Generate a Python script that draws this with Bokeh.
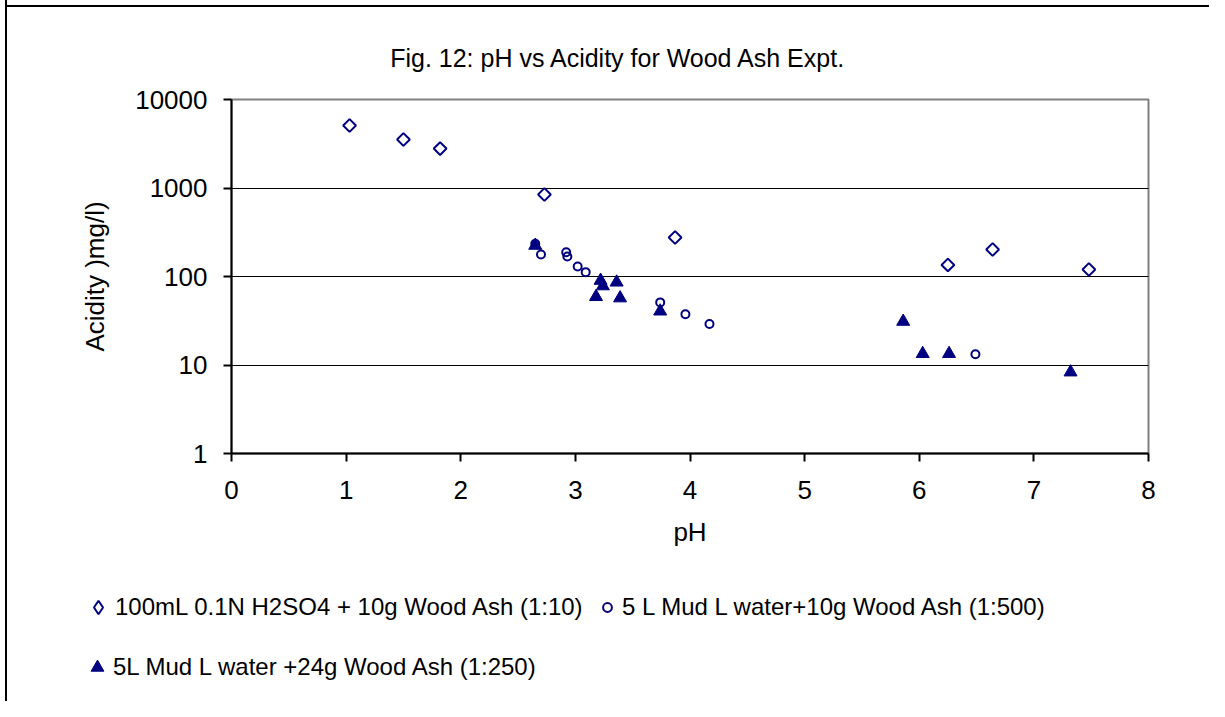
import math
from bokeh.plotting import figure
from bokeh.layouts import column
from bokeh.models import Range1d, FixedTicker, PrintfTickFormatter, Legend, LegendItem, Label
from bokeh.embed import file_html
from bokeh.resources import INLINE

# ---- data ----
ph_h2so4 = [1.03, 1.50, 1.82, 2.73, 3.87, 6.25, 6.64, 7.48]
acid_h2so4 = [5080, 3530, 2790, 845, 276, 135, 202, 120]

ph_mud500 = [2.65, 2.70, 2.92, 2.93, 3.02, 3.09, 3.74, 3.96, 4.17, 6.49]
acid_mud500 = [234, 177, 188, 168, 130, 112, 51, 37.5, 29, 13.2]

ph_mud250 = [2.65, 3.18, 3.22, 3.24, 3.36, 3.39, 3.74, 5.86, 6.03, 6.26, 7.32]
acid_mud250 = [224, 59, 90, 78, 86, 57, 40.5, 31, 13.4, 13.4, 8.3]

title_text = "Fig. 12: pH vs Acidity for Wood Ash Expt."
labels = [
    "100mL 0.1N H2SO4 + 10g Wood Ash (1:10)",
    "5 L Mud L water+10g Wood Ash (1:500)",
    "5L Mud L water +24g Wood Ash (1:250)",
]
x_ticks = [0, 1, 2, 3, 4, 5, 6, 7, 8]
y_ticks = [1, 10, 100, 1000, 10000]

NAVY = "#000080"
FONT = "Liberation Sans"
W = 1209
H_T, H_A, H_B = 80, 480, 141

LEFT_LINE = "linear-gradient(#000,#000) 5px 0 / 2px 100% no-repeat"

styles = dict(diamond=dict(marker="square", angle=math.pi / 4, size=9, fill_color=None,
                           line_color=NAVY, line_width=2),
              circle=dict(marker="circle", size=8, fill_color=None, line_color=NAVY, line_width=2),
              triangle=dict(marker="triangle", size=13, fill_color=NAVY, line_color=NAVY,
                            line_width=1))


def blank_fig(height, bg):
    f = figure(width=W, height=height, x_range=Range1d(0, W), y_range=Range1d(0, height),
               output_backend="svg", toolbar_location=None,
               x_axis_location=None, y_axis_location=None, min_border=0)
    f.frame_align = False
    f.grid.visible = False
    f.outline_line_color = None
    f.background_fill_alpha = 0
    f.border_fill_alpha = 0
    f.styles = {"background": bg}
    return f


# ---- title strip ----
pt = blank_fig(H_T, LEFT_LINE + ", linear-gradient(#000,#000) 5px 5px / 100% 2px no-repeat, #fff")
pt.add_layout(Label(x=618, y=23, text=title_text, text_align="center", text_baseline="middle",
                    text_font=FONT, text_font_size="25px", text_color="black"))

# ---- main plot ----
p = figure(width=W, height=H_A, x_range=Range1d(0, 8), y_range=Range1d(1, 10000),
           y_axis_type="log", output_backend="svg", toolbar_location=None)
p.frame_align = False
p.min_border_left = 231
p.min_border_right = 61
p.min_border_top = 19
p.min_border_bottom = 107
p.styles = {"background": LEFT_LINE + ", #fff"}
p.background_fill_color = "white"
p.border_fill_alpha = 0
p.outline_line_color = "#808080"
p.outline_line_width = 2

for ax in (p.xaxis[0], p.yaxis[0]):
    ax.axis_line_color = "black"
    ax.axis_line_width = 2
    ax.major_tick_line_color = "black"
    ax.major_tick_line_width = 2
    ax.major_tick_out = 8
    ax.major_tick_in = 0
    ax.minor_tick_line_color = None
    ax.major_label_text_font = FONT
    ax.major_label_text_font_size = "26px"
    ax.major_label_text_color = "black"
    ax.axis_label_text_font = FONT
    ax.axis_label_text_font_size = "26px"
    ax.axis_label_text_font_style = "normal"
    ax.axis_label_text_color = "black"

p.xaxis.ticker = FixedTicker(ticks=x_ticks)
p.yaxis.ticker = FixedTicker(ticks=y_ticks)
p.yaxis.formatter = PrintfTickFormatter(format="%d")
p.xaxis.axis_label = "pH"
p.yaxis.axis_label = "Acidity )mg/l)"
p.xaxis.major_label_standoff = 19
p.yaxis.major_label_standoff = 16
p.xaxis.axis_label_standoff = 15
p.yaxis.axis_label_standoff = 22

p.xgrid.visible = False
p.ygrid.ticker = FixedTicker(ticks=[10, 100, 1000])
p.ygrid.grid_line_color = "black"
p.ygrid.grid_line_width = 1

p.scatter(ph_h2so4, acid_h2so4, **styles["diamond"])
p.scatter(ph_mud500, acid_mud500, **styles["circle"])
p.scatter(ph_mud250, acid_mud250, **styles["triangle"])

# ---- legend strip (legend swatches use hidden NaN points) ----
pb = blank_fig(H_B, LEFT_LINE + ", #fff")
nan = [float("nan")]
d1 = pb.scatter(nan, nan, marker="diamond", size=12, fill_color=None, line_color=NAVY,
                line_width=2)
d2 = pb.scatter(nan, nan, **styles["circle"])
d3 = pb.scatter(nan, nan, **styles["triangle"])
common = dict(border_line_color=None, background_fill_alpha=0, padding=0, margin=0,
              label_text_font=FONT, label_text_font_size="24px", label_text_color="black",
              spacing=16, orientation="horizontal")
leg1 = Legend(items=[LegendItem(label=labels[0], renderers=[d1])],
              location=(81, 77), glyph_width=34, glyph_height=34, label_standoff=0, **common)
leg2 = Legend(items=[LegendItem(label=labels[1], renderers=[d2])],
              location=(596, 80), glyph_width=22, glyph_height=22, label_standoff=4, **common)
leg3 = Legend(items=[LegendItem(label=labels[2], renderers=[d3])],
              location=(81, 18), glyph_width=32, glyph_height=32, label_standoff=0, **common)
pb.add_layout(leg1)
pb.add_layout(leg2)
pb.add_layout(leg3)

layout = column(pt, p, pb, spacing=0)
open("out.html", "w").write(file_html(layout, INLINE))
